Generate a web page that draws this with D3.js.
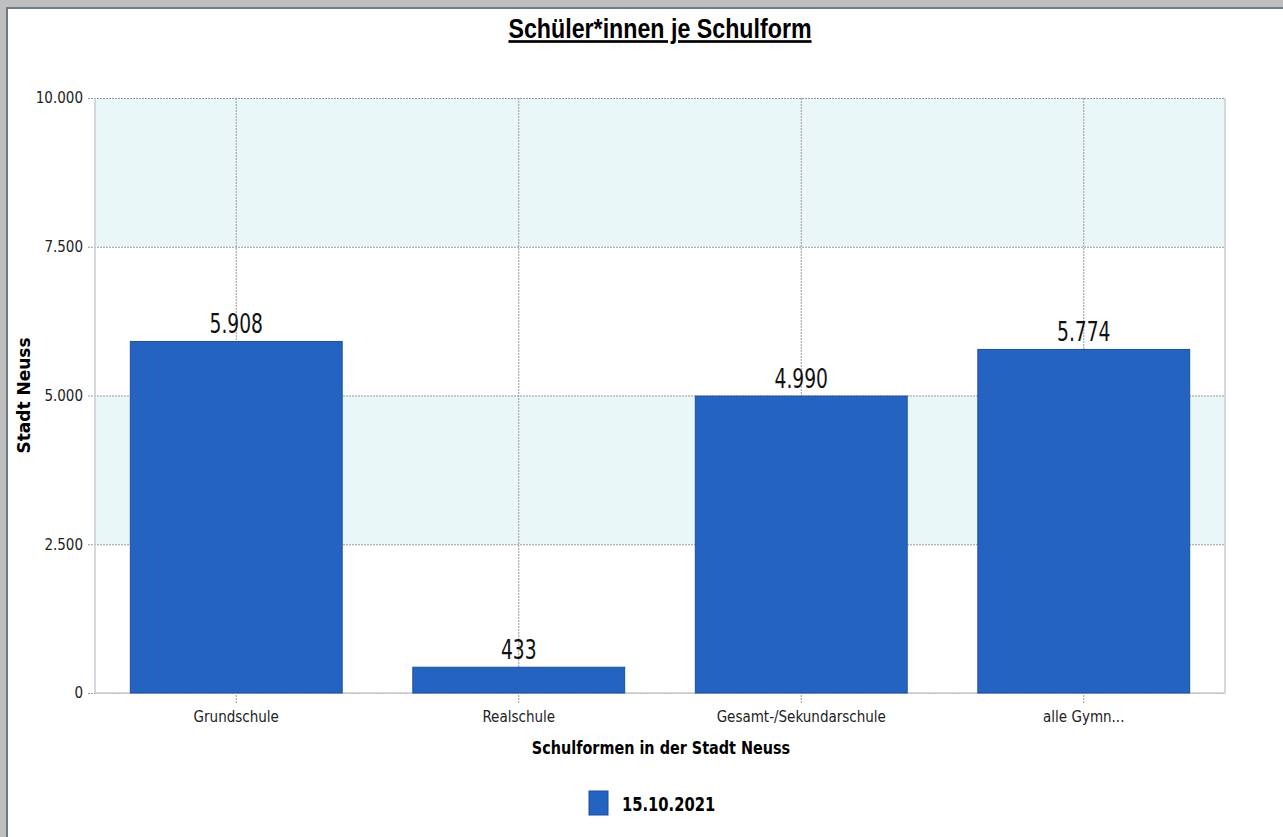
<!DOCTYPE html>
<html>
<head>
<meta charset="utf-8">
<script src="https://cdn.jsdelivr.net/npm/d3@7"></script>
<style>
  body { margin: 0; background: #fff; }
  svg { display: block; }
</style>
</head>
<body>
<div id="chart"></div>
<script>
// data
const categories = ["Grundschule", "Realschule", "Gesamt-/Sekundarschule", "alle Gymn..."];
const values = [5908, 433, 4990, 5774];
const yTicks = [0, 2500, 5000, 7500, 10000];
const seriesName = "15.10.2021";

const W = 1283, H = 837;
const margin = { top: 98, right: 58, bottom: 144, left: 95 };
const width = W - margin.left - margin.right;
const height = H - margin.top - margin.bottom;
const narrow = "'Liberation Sans Narrow', 'DejaVu Sans Condensed', 'Arial Narrow', sans-serif";

const fmt = d3.formatLocale({ decimal: ",", thousands: ".", grouping: [3] }).format(",d");

const svg = d3.select("#chart").append("svg")
  .attr("width", W)
  .attr("height", H);

// window frame
svg.append("rect").attr("x", 0).attr("y", 0).attr("width", W).attr("height", 7).attr("fill", "#bfbfbf");
svg.append("rect").attr("x", 0).attr("y", 0).attr("width", 6).attr("height", H).attr("fill", "#bfbfbf");
svg.append("rect").attr("x", 6).attr("y", 7).attr("width", W - 6).attr("height", 2).attr("fill", "#6f7c87");
svg.append("rect").attr("x", 6).attr("y", 7).attr("width", 2).attr("height", H - 7).attr("fill", "#6f7c87");

const xScale = d3.scaleBand().domain(categories).range([0, width]).paddingInner(0.25).paddingOuter(0.125);
const yScale = d3.scaleLinear().domain([0, 10000]).range([height, 0]);

const g = svg.append("g").attr("transform", `translate(${margin.left},${margin.top})`);

// alternating bands
const bands = d3.pairs(yTicks).filter((d, i) => i % 2 === 1);
g.selectAll(".band").data(bands).enter().append("rect")
  .attr("class", "band")
  .attr("x", 0)
  .attr("width", width)
  .attr("y", (d) => yScale(d[1]))
  .attr("height", (d) => yScale(d[0]) - yScale(d[1]))
  .attr("fill", "#e9f7f8");

// grid lines
const yGrid = d3.axisLeft(yScale).tickValues(yTicks).tickSize(-width - 7).tickFormat("");
g.append("g").attr("class", "y-grid").attr("transform", "translate(-7,0)").call(yGrid)
  .call((s) => s.select(".domain").remove())
  .selectAll("line").attr("stroke", "#9a9a9a").attr("stroke-dasharray", "2,1");

const xGrid = d3.axisBottom(xScale).tickSize(-height - 10).tickFormat("");
g.append("g").attr("class", "x-grid").attr("transform", `translate(0,${height + 10})`).call(xGrid)
  .call((s) => s.select(".domain").remove())
  .selectAll("line").attr("stroke", "#9a9a9a").attr("stroke-dasharray", "2,1");

// plot border (left, bottom, right)
g.append("path")
  .attr("d", `M0,0V${height}H${width}V0`)
  .attr("fill", "none")
  .attr("stroke", "#c9ced3")
  .attr("stroke-width", 1.5);

// bars
g.selectAll(".bar").data(values).enter().append("rect")
  .attr("class", "bar")
  .attr("x", (d, i) => xScale(categories[i]))
  .attr("width", xScale.bandwidth())
  .attr("y", (d) => yScale(d))
  .attr("height", (d) => height - yScale(d))
  .attr("fill", "#2563c0")
  .attr("stroke", "#1d4f9c")
  .attr("stroke-width", 1);

// value labels (the original font is a condensed one, so squeeze horizontally)
g.selectAll(".val").data(values).enter().append("g")
  .attr("class", "val")
  .attr("transform", (d, i) =>
    `translate(${xScale(categories[i]) + xScale.bandwidth() / 2},${yScale(d) - 8}) scale(0.8,1)`)
  .append("text")
  .attr("text-anchor", "middle")
  .attr("font-family", narrow)
  .attr("font-size", 26)
  .attr("fill", "#111")
  .text((d) => fmt(d));

// y axis labels
const yAxis = d3.axisLeft(yScale).tickValues(yTicks).tickSize(0).tickPadding(12).tickFormat(fmt);
g.append("g").attr("class", "y-axis").call(yAxis)
  .call((s) => s.select(".domain").remove())
  .selectAll("text")
  .attr("font-family", narrow)
  .attr("font-size", 15)
  .attr("fill", "#222");

// x axis labels
const xAxis = d3.axisBottom(xScale).tickSize(0).tickPadding(18);
g.append("g").attr("class", "x-axis").attr("transform", `translate(0,${height})`).call(xAxis)
  .call((s) => s.select(".domain").remove())
  .selectAll("text")
  .attr("font-family", narrow)
  .attr("font-size", 15)
  .attr("fill", "#222");

// title
svg.append("g")
  .attr("transform", "translate(660,38) scale(0.86,1)")
  .append("text")
  .attr("text-anchor", "middle")
  .attr("font-family", "'Liberation Sans', Arial, sans-serif")
  .attr("font-weight", "bold")
  .attr("font-size", 27)
  .attr("text-decoration", "underline")
  .attr("fill", "#000")
  .text("Schüler*innen je Schulform");

// axis titles
svg.append("text")
  .attr("transform", `translate(30,${margin.top + height / 2}) rotate(-90)`)
  .attr("text-anchor", "middle")
  .attr("font-family", "'DejaVu Sans', Verdana, sans-serif")
  .attr("font-weight", "bold")
  .attr("font-size", 17)
  .attr("fill", "#000")
  .text("Stadt Neuss");

svg.append("g")
  .attr("transform", "translate(661,754) scale(0.89,1)")
  .append("text")
  .attr("text-anchor", "middle")
  .attr("font-family", "'DejaVu Sans Condensed', 'Liberation Sans Narrow', sans-serif")
  .attr("font-weight", "bold")
  .attr("font-size", 18)
  .attr("fill", "#000")
  .text("Schulformen in der Stadt Neuss");

// legend
const legend = svg.append("g").attr("transform", "translate(589,791)");
legend.append("rect")
  .attr("width", 19)
  .attr("height", 24)
  .attr("fill", "#2563c0")
  .attr("stroke", "#1d4f9c");
legend.append("g")
  .attr("transform", "translate(33,20) scale(0.82,1)")
  .append("text")
  .attr("font-family", "'DejaVu Sans Condensed', 'Liberation Sans Narrow', sans-serif")
  .attr("font-weight", "bold")
  .attr("font-size", 20)
  .attr("fill", "#000")
  .text(seriesName);
</script>
</body>
</html>
